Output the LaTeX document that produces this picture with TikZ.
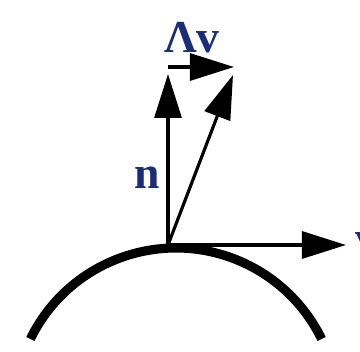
\documentclass[tikz,border=0pt]{standalone}
\usepackage{fontspec}
\setmainfont{Liberation Serif}
\usetikzlibrary{arrows.meta}
\definecolor{labelblue}{RGB}{25,45,120}
\begin{document}
\begin{tikzpicture}[
    x=0.1mm, y=0.1mm,
    >={Triangle[length=4.4mm,width=2.7mm]},
    line width=0.9pt,
    lbl/.style={text=labelblue, font=\fontsize{13}{15}\selectfont\bfseries, inner sep=0pt}
]
  \useasboundingbox (0,0) rectangle (360,352);

  % points
  \coordinate (P)  at (168,107);
  \coordinate (N)  at (168,278);
  \coordinate (S)  at (233,277);
  \coordinate (L0) at (168,285);
  \coordinate (L1) at (234,285);
  \coordinate (V)  at (346,107);

  % surface
  \draw[line width=2.6pt] (176,-58) ++(154:162) arc[start angle=154, end angle=26, radius=162];

  % vectors
  \draw[->] (P) -- (N);
  \draw[->] (P) -- (S);
  \draw[->] (L0) -- (L1);
  \draw[->] (P) -- (V);

  % labels
  \node[lbl] (n)  at (147,174) {n};
  \node[lbl] (lv) at (192,314) {Λv};
  \node[lbl, anchor=west] (v) at (354,109) {v};
\end{tikzpicture}
\end{document}
